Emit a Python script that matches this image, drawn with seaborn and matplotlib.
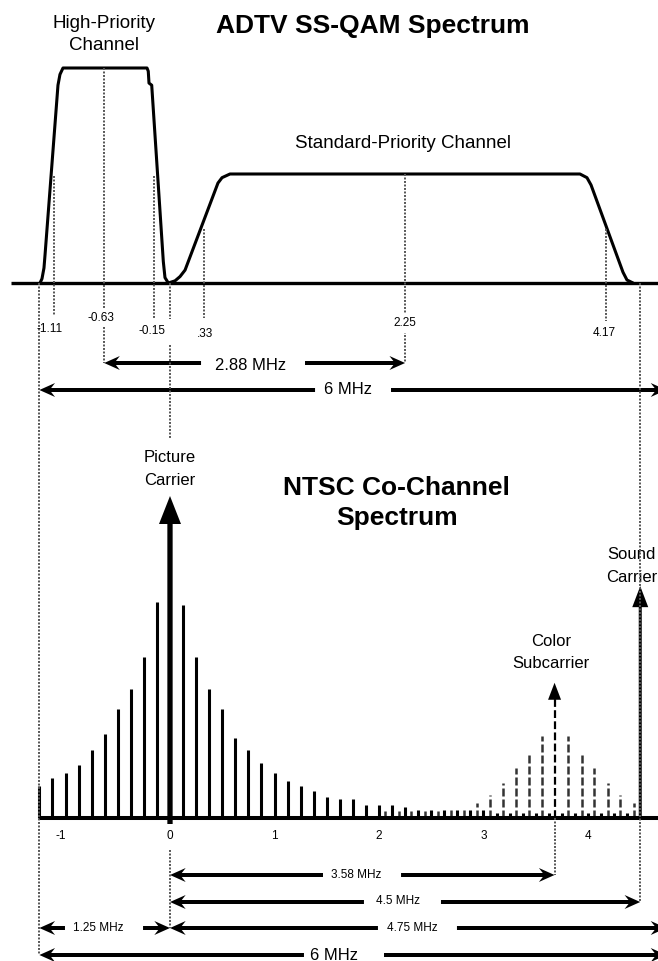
import pandas as pd
import seaborn as sns
import matplotlib.pyplot as plt

# ---- data (frequencies in MHz relative to the NTSC picture carrier) ----
# ADTV SS-QAM outline, amplitude relative to the high-priority peak
hp_freq = [-1.244, -1.225, -1.206, -1.196, -1.072, -1.053, -1.024, -0.220,
           -0.208, -0.201, -0.175, -0.064, -0.048, -0.016]
hp_amp = [0.0, 0.02, 0.07, 0.13, 0.92, 0.97, 1.0, 1.0,
          0.985, 0.93, 0.92, 0.10, 0.025, 0.0]
sp_freq = [-0.016, 0.048, 0.096, 0.144, 0.459, 0.498, 0.574, 3.923,
           3.990, 4.029, 4.335, 4.373, 4.431]
sp_amp = [0.0, 0.01, 0.03, 0.06, 0.465, 0.49, 0.507, 0.507,
          0.49, 0.456, 0.05, 0.014, 0.0]

adtv_marks = [-1.11, -0.63, -0.15, 0.33, 2.25, 4.17]
adtv_mark_labels = ["-1.11", "-0.63", "-0.15", ".33", "2.25", "4.17"]
adtv_mark_level = [0.5, 1.0, 0.5, 0.25, 0.507, 0.25]

# NTSC line spectrum, amplitude in % of picture carrier
lum_freq = [-1.25, -1.125, -1.0, -0.875, -0.75, -0.625, -0.5, -0.375, -0.25, -0.125,
            0.125, 0.25, 0.375, 0.5, 0.625, 0.75, 0.875, 1.0, 1.125, 1.25,
            1.375, 1.5, 1.625, 1.75, 1.875, 2.0, 2.125, 2.25, 2.375, 2.5,
            2.625, 2.75, 2.875, 3.0, 3.125, 3.25, 3.375, 3.5, 3.625, 3.75,
            3.875, 4.0, 4.125, 4.25, 4.375]
lum_pct = [10, 12.5, 14, 16.5, 21, 26, 34, 40, 50, 67,
           66, 50, 40, 34, 25, 21, 17, 14, 11.5, 10,
           8.5, 6.5, 6, 6, 4, 4, 4, 3.5, 2.5, 2.5,
           2.5, 2.5, 2.5, 2.5, 1.6, 1.6, 1.6, 1.6, 1.6, 1.6,
           1.6, 1.6, 1.6, 1.6, 1.6]
chroma_freq = [2.06, 2.19, 2.31, 2.44, 2.56, 2.69, 2.81, 2.94, 3.06, 3.19,
               3.31, 3.44, 3.56, 3.81, 3.94, 4.06, 4.19, 4.31, 4.44]
chroma_pct = [2.2, 2.2, 2.2, 2.2, 2.2, 3.1, 3.1, 4.7, 7.1, 10.9,
              15.5, 19.6, 25.5, 25.5, 19.6, 15.5, 10.9, 7.1, 4.7]
picture_f, picture_pct = 0.0, 100
sound_f, sound_pct = 4.5, 72
color_f, color_pct = 3.68, 42
ticks = [-1, 0, 1, 2, 3, 4]
tick_labels = ["-1", "0", "1", "2", "3", "4"]

# ---- layout (y in pixels from the top) ----
PPM = 104.5          # px per MHz
TOP_BASE, TOP_SCALE = 283, 215
BOT_BASE, BOT_SCALE = 818, 322

sns.set_theme(style="white")
plt.rcParams["font.family"] = ["Liberation Sans", "DejaVu Sans"]
plt.rcParams["text.color"] = "black"

fig = plt.figure(figsize=(6.58, 9.61), dpi=100)
ax = fig.add_axes([0, 0, 1, 1])
ax.set_xlim(-170 / PPM, (658 - 170) / PPM)
ax.set_ylim(961, 0)
ax.axis("off")

dot = dict(colors="#555555", linestyles=(0, (1, 0.8)), lw=1.4, zorder=5)

# ADTV spectrum
df = pd.DataFrame({
    "freq": hp_freq + sp_freq,
    "y": [TOP_BASE - a * TOP_SCALE for a in hp_amp + sp_amp],
    "chan": ["hp"] * len(hp_freq) + ["sp"] * len(sp_freq),
})
sns.lineplot(data=df, x="freq", y="y", units="chan", estimator=None, sort=False,
             color="black", lw=2.2, ax=ax)
ax.hlines(TOP_BASE, -1.52, 4.8, colors="black", lw=2.4)

label_x = [-1.148, -0.66, -0.172, 0.335, 2.25, 4.153]
label_y = [329, 318, 331.5, 334, 323.5, 333.5]
line_end = [315, 363, 318, 318, 363, 321]
for f, lab, lev, lx, ly, le in zip(adtv_marks, adtv_mark_labels, adtv_mark_level,
                                   label_x, label_y, line_end):
    ax.vlines(f, TOP_BASE - lev * TOP_SCALE, le, **dot)
    ax.text(lx, ly, lab, ha="center", va="center", fontsize=8.5, zorder=6,
            bbox=dict(fc="white", ec="none", pad=2.5) if le == 363 else None)

# guide lines that run through both panels
ax.vlines(-1.25, TOP_BASE, 955, **dot)
ax.vlines(sound_f, TOP_BASE, 902, **dot)
ax.vlines(0, TOP_BASE, 319, **dot)
ax.vlines(0, 345, 438, **dot)
ax.vlines(0, 850, 928, **dot)
ax.vlines(color_f, BOT_BASE, 875, **dot)

# NTSC line spectrum
ax.vlines(lum_freq, BOT_BASE, [BOT_BASE - p * BOT_SCALE / 100 for p in lum_pct],
          colors="black", lw=2.2)
ax.vlines(chroma_freq, BOT_BASE, [BOT_BASE - p * BOT_SCALE / 100 for p in chroma_pct],
          colors="#333333", lw=1.8, linestyles=(0, (3.2, 1.2)))
ax.hlines(BOT_BASE, -1.25, 4.8, colors="black", lw=2.9)

ax.arrow(picture_f, BOT_BASE + 6, 0, -(picture_pct * BOT_SCALE / 100 + 6),
         width=5.3 / PPM, head_width=22 / PPM, head_length=28,
         length_includes_head=True, color="black", lw=0, zorder=4)
ax.arrow(sound_f, BOT_BASE, 0, -sound_pct * BOT_SCALE / 100,
         width=3 / PPM, head_width=16 / PPM, head_length=21,
         length_includes_head=True, color="black", lw=0, zorder=4)
color_top = BOT_BASE - color_pct * BOT_SCALE / 100
ax.vlines(color_f, BOT_BASE, color_top + 16, colors="black", lw=1.6,
          linestyles=(0, (3.5, 1.5)))
ax.arrow(color_f, color_top + 17, 0, -17, width=0.002, head_width=13 / PPM,
         head_length=17, length_includes_head=True, color="black", lw=0)

for t, s in zip(ticks, tick_labels):
    ax.text(t - (0.05 if t < 0 else 0), 839, s, ha="center", va="baseline", fontsize=8.5)


# dimension arrows
def dim(x0, x1, y, label, xt, g0, g1, yb, size):
    kw = dict(width=4, head_width=14, head_length=0.15, overhang=0.25,
              length_includes_head=True, color="black", lw=0, zorder=4)
    ax.arrow(g0, y, x0 - g0, 0, **kw)
    ax.arrow(g1, y, x1 - g1, 0, **kw)
    ax.text(xt, yb, label, ha="center", va="baseline", fontsize=size)


dim(-0.63, 2.25, 363, "2.88 MHz", 0.775, 0.297, 1.292, 369.5, 12)
dim(-1.25, 4.75, 390, "6 MHz", 1.708, 1.388, 2.115, 394.5, 12)
dim(0, color_f, 875, "3.58 MHz", 1.78, 1.464, 2.211, 877.5, 8.5)
dim(0, sound_f, 902, "4.5 MHz", 2.18, 1.856, 2.593, 904.5, 8.5)
dim(-1.25, 0, 928, "1.25 MHz", -0.689, -1.005, -0.258, 931, 8.5)
dim(0, 4.75, 928, "4.75 MHz", 2.316, 1.990, 2.746, 931, 8.5)
dim(-1.25, 4.75, 955, "6 MHz", 1.57, 1.282, 2.048, 959.5, 12)


def lines(x, rows, size, weight="normal"):
    for s, yb in rows:
        ax.text(x, yb, s, ha="center", va="baseline", fontsize=size, fontweight=weight)


lines(1.938, [("ADTV SS-QAM Spectrum", 33.5)], 19, "bold")
lines(-0.636, [("High-Priority", 28.5), ("Channel", 50)], 13.5)
lines(2.23, [("Standard-Priority Channel", 148)], 13.5)
lines(0, [("Picture", 461.5), ("Carrier", 485)], 12)
lines(2.17, [("NTSC Co-Channel", 495), ("Spectrum", 525)], 19, "bold")
lines(4.42, [("Sound", 559), ("Carrier", 582)], 12)
lines(3.646, [("Color", 646), ("Subcarrier", 668)], 12)

fig.savefig("out.png", dpi=100)
